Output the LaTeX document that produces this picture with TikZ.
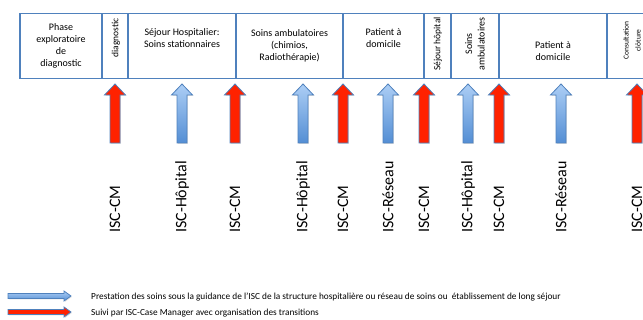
\documentclass[tikz,border=0pt]{standalone}
\usepackage{fontspec}
\setmainfont{Carlito}
\usepackage{tikz}
\usetikzlibrary{positioning, calc, shadows}

\definecolor{boxblue}{RGB}{79,129,189}
\definecolor{lightblue}{RGB}{172,206,245}
\definecolor{darkblue}{RGB}{84,142,212}
\definecolor{cmred}{RGB}{255,34,0}

\begin{document}
\begin{tikzpicture}[x=1pt, y=-1pt]
				\tikzset{phase/.style={draw=boxblue, line width=1.3pt, inner sep=1pt, align=center, font=\fontsize{10}{12}\selectfont}}
				\tikzset{vtext/.style={rotate=90, anchor=east, align=center, inner sep=0pt, font=\fontsize{9.5}{12}\selectfont}}
				\tikzset{isc/.style={rotate=90, anchor=west, inner sep=0pt, font=\fontsize{16}{18}\selectfont}}
				\tikzset{arrowbase/.style={draw=boxblue, line width=0.8pt, drop shadow={opacity=0.25, shadow xshift=0.8pt, shadow yshift=-1pt}}}
				\tikzset{hoparrow/.style={arrowbase, top color=lightblue, bottom color=darkblue}}
				\tikzset{cmarrow/.style={arrowbase, fill=cmred}}
				\tikzset{legend/.style={anchor=west, inner sep=0pt, font=\fontsize{9.3}{11}\selectfont}}
				\tikzset{pics/uparrow/.style={code={
					\draw[#1] (-5,143) -- (-5,95) -- (-10.5,95) -- (0,84) -- (10.5,95) -- (5,95) -- (5,143) -- cycle;}}}
				\tikzset{pics/rightarrow/.style={code={
					\draw[#1] (8,-2.5) -- (64,-2.5) -- (64,-5) -- (71,0) -- (64,5) -- (64,2.5) -- (8,2.5) -- cycle;}}}

				\useasboundingbox (0,0) rectangle (643,320);
				\clip (0,0) rectangle (643,320);

				% phases
				\node (b1) [phase, minimum width=82, minimum height=65] at (61,46) {Phase\\exploratoire\\de\\diagnostic};
				\node (b2) [phase, minimum width=26, minimum height=65] at (115,46) {};
				\node (b3) [phase, minimum width=108, minimum height=65] at (182,46) {Séjour Hospitalier:\\Soins stationnaires\\[4pt]};
				\node (b4) [phase, minimum width=107, minimum height=65] at (289.5,46) {Soins ambulatoires\\(chimios,\\Radiothérapie)};
				\node (b5) [phase, minimum width=81, minimum height=65] at (383.5,46) {Patient à\\domicile\\[4pt]};
				\node (b6) [phase, minimum width=27, minimum height=65] at (437.5,46) {};
				\node (b7) [phase, minimum width=48, minimum height=65] at (475,46) {};
				\node (b8) [phase, minimum width=108, minimum height=65] at (553,46) {};
				\node (b9) [phase, minimum width=60, minimum height=65] at (637,46) {};
				\node [phase, draw=none, yshift=-5] at (b8) {Patient à\\domicile};
				\node [vtext] at (116,18) {diagnostic};
				\node [vtext] at (438,17) {Séjour hôpital};
				\node [vtext, font=\fontsize{10}{12.5}\selectfont] at (475,17) {Soins\\ambulatoires};
				\node [vtext, font=\fontsize{7.5}{12}\selectfont] at (632,21) {Consultation\\clôture};

				% transitions and care
				\foreach \x/\kind/\lab in {115/cmarrow/ISC-CM, 182/hoparrow/ISC-Hôpital, 235/cmarrow/ISC-CM, 303/hoparrow/ISC-Hôpital,
					343/cmarrow/ISC-CM, 388/hoparrow/ISC-Réseau, 424/cmarrow/ISC-CM, 468/hoparrow/ISC-Hôpital, 499/cmarrow/ISC-CM,
					561/hoparrow/ISC-Réseau, 637/cmarrow/ISC-CM}
				{
					\pic at (\x,0) {uparrow=\kind};
					\node (t\x) [isc] at (\x,233) {\lab};
				}

				% legend
				\pic at (0,296) {rightarrow=hoparrow};
				\pic at (0,312) {rightarrow=cmarrow};
				\node (leg1) [legend] at (91,297) {Prestation des soins sous la guidance de l’ISC de la structure hospitalière ou réseau de soins ou \ établissement de long séjour};
				\node (leg2) [legend] at (91,313.5) {Suivi par ISC-Case Manager avec organisation des transitions};
			\end{tikzpicture}
\end{document}
